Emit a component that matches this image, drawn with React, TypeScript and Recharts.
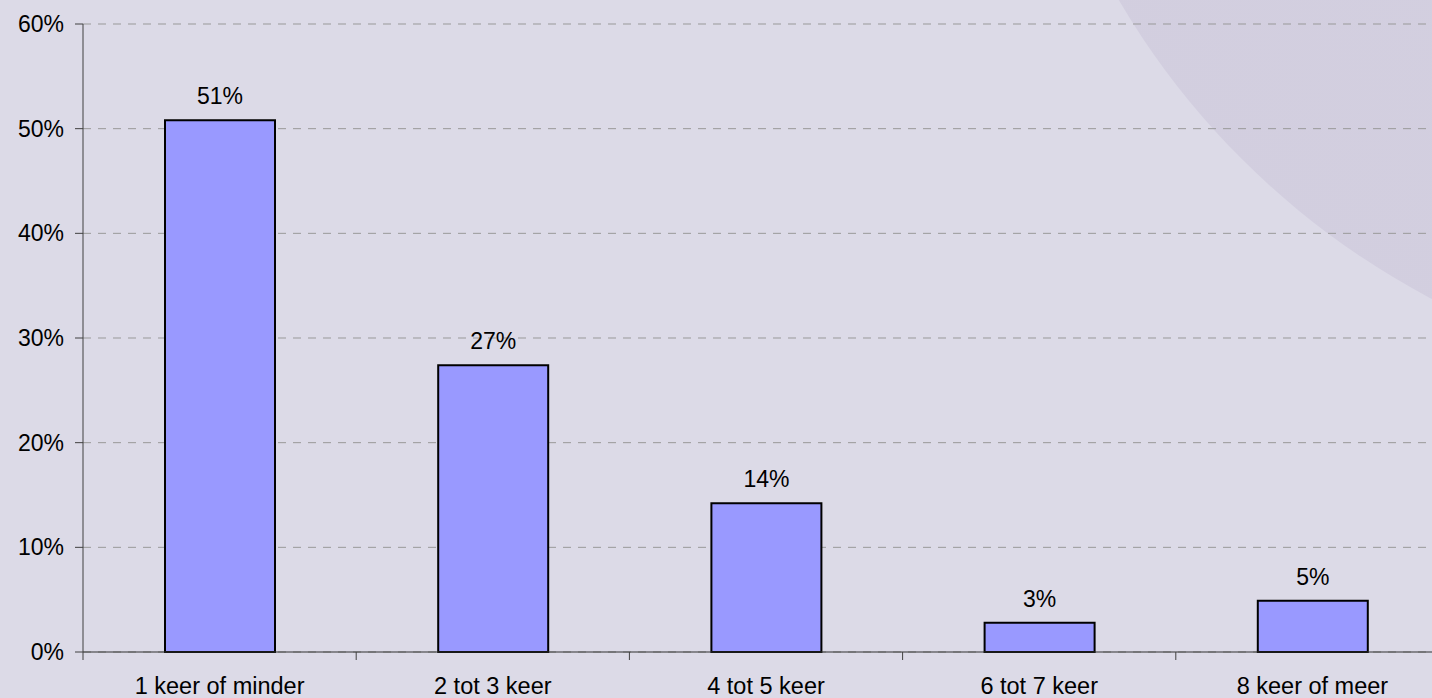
import React from 'react';
import { BarChart, Bar, XAxis, YAxis, CartesianGrid, LabelList } from 'recharts';

const categories = ['1 keer of minder', '2 tot 3 keer', '4 tot 5 keer', '6 tot 7 keer', '8 keer of meer'];
const shares = [50.8, 27.4, 14.2, 2.8, 4.9];
const shareLabels = ['51%', '27%', '14%', '3%', '5%'];
const yTicks = [0, 10, 20, 30, 40, 50, 60];

const data = categories.map((name, i) => ({ name, value: shares[i], label: shareLabels[i] }));

const FONT = 'Arial, "Liberation Sans", sans-serif';

// label in the middle of the category, tick marks on the category borders
const CategoryTick = (props: any) => {
  const { x, y, payload, index, visibleTicksCount } = props;
  const half = payload?.offset ?? 0;
  const isLast = index === visibleTicksCount - 1;
  return (
    <g>
      <line x1={x - half} x2={x - half} y1={y - 8} y2={y} stroke="#404040" strokeWidth={1} />
      {isLast && <line x1={x + half} x2={x + half} y1={y - 8} y2={y} stroke="#404040" strokeWidth={1} />}
      <text x={x} y={y + 34} textAnchor="middle" fill="#000" fontSize={23.5} fontFamily={FONT}>
        {payload.value}
      </text>
    </g>
  );
};

export default function App() {
  return (
    <div
      style={{
        position: 'fixed',
        left: 0,
        top: 0,
        width: 1432,
        height: 698,
        overflow: 'hidden',
        background: '#dcdae7',
      }}
    >
      <div
        style={{
          position: 'absolute',
          left: 1010,
          top: -1190,
          width: 1580,
          height: 1580,
          borderRadius: '50%',
          background: 'radial-gradient(circle, #d4d0e0 0%, #d2cedf 80%, #c9c6d8 100%)',
        }}
      />
      <div style={{ position: 'absolute', left: 0, top: 0 }}>
        <BarChart
          width={1460}
          height={698}
          data={data}
          margin={{ top: 24, right: 11, bottom: 0, left: 0 }}
          barSize={110}
        >
          <CartesianGrid vertical={false} stroke="#999999" strokeDasharray="8 7" />
          <XAxis
            dataKey="name"
            height={46}
            tickLine={false}
            tickSize={8}
            tickMargin={0}
            axisLine={{ stroke: '#303030', strokeWidth: 1 }}
            tick={<CategoryTick />}
            interval={0}
          />
          <YAxis
            width={83}
            domain={[0, 60]}
            ticks={yTicks}
            interval={0}
            tickFormatter={(v: number) => `${v}%`}
            tickSize={8}
            tickMargin={11}
            axisLine={{ stroke: '#404040', strokeWidth: 1 }}
            tickLine={{ stroke: '#404040', strokeWidth: 1 }}
            tick={{ fill: '#000', fontSize: 23, fontFamily: FONT }}
          />
          <Bar dataKey="value" fill="#9999ff" stroke="#000" strokeWidth={2} isAnimationActive={false}>
            <LabelList dataKey="label" position="top" offset={16} fill="#000" fontSize={23} fontFamily={FONT} />
          </Bar>
        </BarChart>
      </div>
    </div>
  );
}
